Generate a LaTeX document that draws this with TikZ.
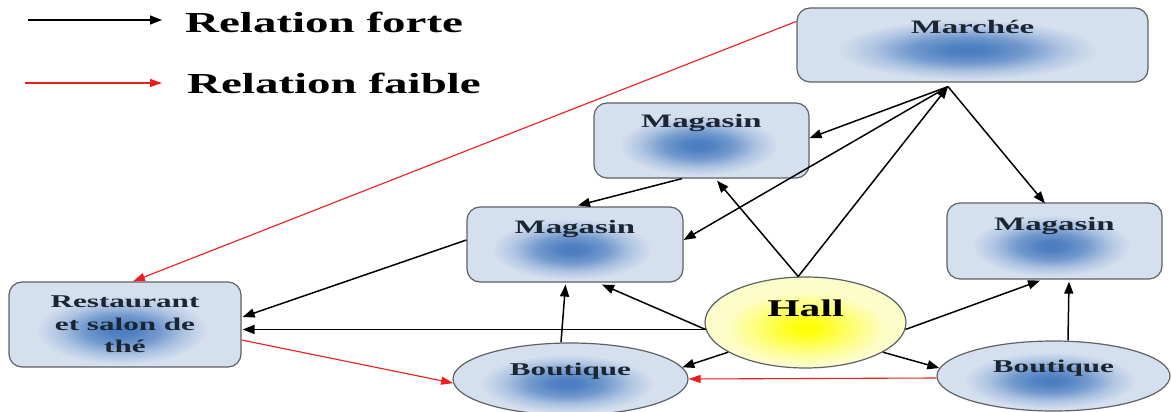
\documentclass[tikz,border=0pt]{standalone}
\usepackage{fontspec}
\setmainfont{Liberation Serif}
\usepackage{graphicx}
\usetikzlibrary{arrows.meta,calc,shapes.geometric}

\definecolor{boxfill}{HTML}{D5E0EF}
\definecolor{blobblue}{HTML}{4A7CC0}
\definecolor{edgegrey}{HTML}{5E6166}
\definecolor{hallpale}{HTML}{FDFDC9}
\definecolor{hallcore}{HTML}{FFFF00}
\definecolor{labelink}{HTML}{1B2633}
\definecolor{weakred}{HTML}{EE1C1C}

% soft blue spot inside the boxes, pale yellow glow inside the hall
\pgfdeclareradialshading{bluefade}{\pgfpoint{0bp}{0bp}}{color(0bp)=(blobblue); color(3bp)=(blobblue!95!boxfill); color(8bp)=(blobblue!70!boxfill); color(13bp)=(blobblue!28!boxfill); color(18bp)=(boxfill); color(50bp)=(boxfill)}
\pgfdeclareradialshading{yellowfade}{\pgfpoint{0bp}{0bp}}{color(0bp)=(hallcore); color(3bp)=(hallcore!90!hallpale); color(9bp)=(hallcore!45!hallpale); color(16bp)=(hallpale); color(50bp)=(hallpale)}

% labels are set wide
\newcommand\wide[1]{\scalebox{1.73}[1]{#1}}
\newcommand\legendwide[1]{\scalebox{1.62}[1]{#1}}

\tikzset{
  blueblob/.style={path picture={
    \shade[shading=bluefade]
      let \p1=(path picture bounding box.south west),
          \p2=(path picture bounding box.north east) in
      ($(\p1)!0.5!(\p2)+({-0.03*(\x2-\x1)},{-0.11*(\y2-\y1)})$)
      ellipse [x radius={0.5*(\x2-\x1)}, y radius={0.52*(\y2-\y1)}];}},
  yellowblob/.style={path picture={
    \shade[shading=yellowfade]
      let \p1=(path picture bounding box.south west),
          \p2=(path picture bounding box.north east) in
      ($(\p1)!0.5!(\p2)+(0pt,{-0.06*(\y2-\y1)})$)
      ellipse [x radius={0.62*(\x2-\x1)}, y radius={0.62*(\y2-\y1)}];}},
  box/.style={rectangle, draw=edgegrey, line width=1.2pt, rounded corners=13pt,
    fill=boxfill, blueblob, inner sep=0pt, text=labelink},
  oval/.style={ellipse, draw=edgegrey, line width=1.2pt, fill=boxfill,
    blueblob, inner sep=0pt, text=labelink},
  hallnode/.style={ellipse, draw=edgegrey, line width=1.2pt, fill=hallpale,
    yellowblob, inner sep=0pt, text=black},
  boxfont/.style={font=\fontsize{19}{22}\selectfont\bfseries},
  ovalfont/.style={font=\fontsize{18}{22}\selectfont\bfseries},
  legendtext/.style={inner sep=0pt, text=black, font=\fontsize{29}{32}\selectfont\bfseries},
  strong/.style={draw=black, line width=1.5pt, -{Triangle[length=12pt,width=9pt]}},
  weak/.style={draw=weakred, line width=1.1pt, -{Triangle[length=12pt,width=8pt]}},
}

\begin{document}
\begin{tikzpicture}[x=1pt, y=-1pt]
\fill[white] (0,0) rectangle (1171,412);
\useasboundingbox (0,0) rectangle (1171,412);

% legend
\node[legendtext, anchor=base west] (forte) at (185,33) {\legendwide{Relation forte}};
\node[legendtext, anchor=base west] (faible) at (187,93) {\legendwide{Relation faible}};
\coordinate (forteA) at (28,20);
\coordinate (forteB) at (162,20);
\coordinate (faibleA) at (25,83);
\coordinate (faibleB) at (162,83);
\draw[strong] (forteA) -- (forteB);
\draw[weak] (faibleA) -- (faibleB);

% boxes
\node[box, boxfont, minimum width=351pt, minimum height=74pt,
      text height=13pt, text depth=35pt] (march) at (972.5,45) {\wide{Marchée}};
\node[box, boxfont, minimum width=215pt, minimum height=75pt,
      text height=13pt, text depth=38pt] (magTop) at (701.5,140.5) {\wide{Magasin}};
\node[box, boxfont, minimum width=216pt, minimum height=75pt,
      text height=13pt, text depth=36pt] (magMid) at (575,244.5) {\wide{Magasin}};
\node[box, boxfont, minimum width=215pt, minimum height=76pt,
      text height=13pt, text depth=35pt] (magRight) at (1054.5,241) {\wide{Magasin}};
\node[box, align=center, font=\fontsize{18}{22.5}\selectfont\bfseries,
      minimum width=232pt, minimum height=85pt] (rest) at (125,324.5)
      {\wide{Restaurant}\\\wide{et salon de}\\\wide{thé}};

% ellipses
\node[hallnode, font=\fontsize{24}{28}\selectfont\bfseries,
      minimum width=201pt, minimum height=91pt,
      text height=16.5pt, text depth=28.5pt] (hall) at (805.5,322.5) {\wide{Hall}};
\node[oval, ovalfont, minimum width=235pt, minimum height=72pt,
      text height=12.5pt, text depth=19.5pt] (boutL) at (570.5,379) {\wide{Boutique}};
\node[oval, ovalfont, minimum width=233pt, minimum height=70pt,
      text height=12.5pt, text depth=19.5pt] (boutR) at (1053.5,376) {\wide{Boutique}};

% meeting point under the Marchée box
\coordinate (hub) at ([xshift=-24.5pt,yshift=-4pt]march.south);

% strong relations
\draw[strong] (hub) -- ([yshift=2.5pt]magTop.east);
\draw[strong] (hub) -- ([yshift=4.5pt]magMid.east);
\draw[strong] (hub) -- ([xshift=-9.5pt,yshift=-1pt]magRight.north);
\draw[strong] (hall.99) -- (hub);
\draw[strong] (hall.99) -- ([xshift=15.5pt,yshift=-2pt]magTop.south);
\draw[strong] ([xshift=-19.5pt]magTop.south) -- ([xshift=3pt,yshift=1pt]magMid.north);
\draw[strong] ([yshift=4.5pt]magMid.west) -- ([xshift=1pt,yshift=7.5pt]rest.east);
\draw[strong] (hall.184) -- ([xshift=27pt,yshift=-2pt]magMid.south);
\draw[strong] (hall.184) -- ([xshift=1pt]rest.east |- hall.184);
\draw[strong] ([xshift=-9.5pt]boutL.north) -- ([xshift=-9.5pt,yshift=-2pt]magMid.south);
\draw[strong] (hall.201) -- (boutL.6);
\draw[strong] (hall.339) -- (boutR.176);
\draw[strong] (hall.356) -- ([xshift=-14.5pt,yshift=-1pt]magRight.south);
\draw[strong] ([xshift=14.5pt]boutR.north) -- ([xshift=14.5pt,yshift=-2pt]magRight.south);

% weak relations
\draw[weak] ([yshift=-14pt]march.north west) -- ([xshift=8pt]rest.north);
\draw[weak] ([yshift=-15.5pt]rest.east) -- (boutL.182);
\draw[weak] ([yshift=-2pt]boutR.west) -- (boutL.east);
\end{tikzpicture}
\end{document}
